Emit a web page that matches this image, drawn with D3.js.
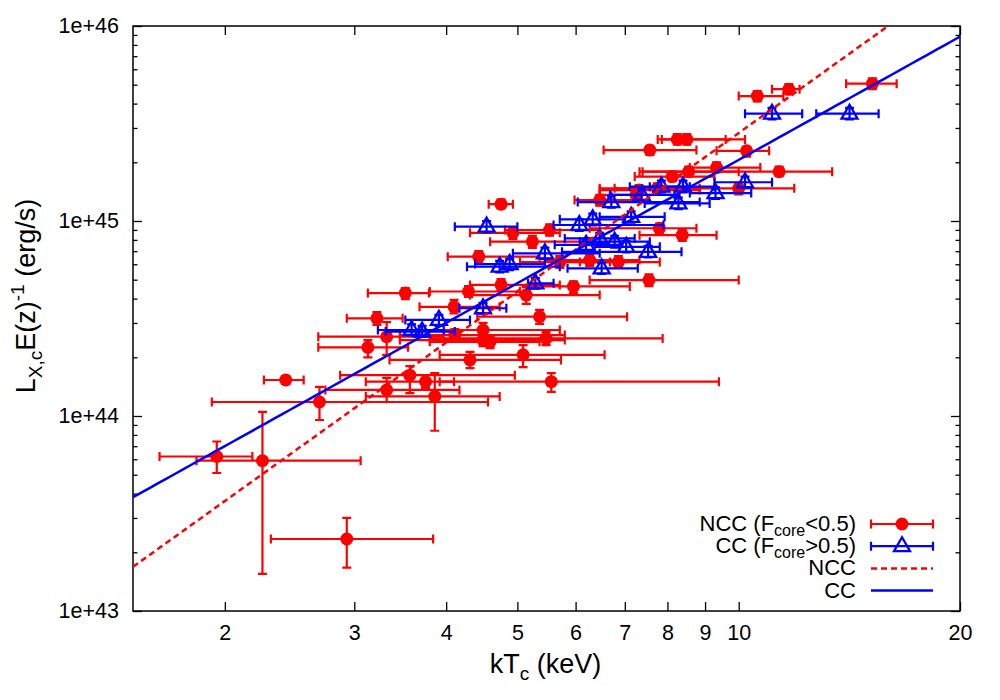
<!DOCTYPE html>
<html>
<head>
<meta charset="utf-8">
<script src="https://cdn.jsdelivr.net/npm/d3@7"></script>
<style>
  body { margin: 0; background: #fff; }
  text { font-family: "Liberation Sans", Arial, sans-serif; fill: #000; }
</style>
</head>
<body>
<div id="chart"></div>
<script>
// NCC clusters (F_core < 0.5): kT in keV, L in 1e44 erg/s
var nccT   = [1.95, 2.25, 2.93, 2.42, 2.69, 3.32, 3.22, 3.52, 3.13, 3.32, 3.57, 3.75, 3.86, 4.10, 4.11, 4.29, 4.31, 4.49, 5.09, 5.47,
              5.56, 5.36, 5.14, 4.49, 4.59, 4.75, 5.96, 7.55, 6.27, 5.24, 5.53, 4.43, 4.75, 15.2, 11.7, 10.6, 8.25, 8.50, 7.57, 10.25,
              9.33, 11.35, 8.55, 8.12, 10.0, 7.32, 7.75, 6.47, 7.80, 8.38, 4.93, 6.86, 7.25, 5.71];
var nccTlo = [1.63, 1.83, 2.31, 2.26, 1.92, 2.74, 2.93, 3.13, 2.68, 2.68, 2.87, 3.11, 3.11, 3.68, 3.46, 3.80, 3.35, 3.46, 3.92, 3.80,
              3.92, 4.41, 4.31, 3.68, 3.80, 4.31, 5.20, 6.27, 5.45, 4.59, 4.81, 4.02, 4.57, 14.0, 11.1, 10.0, 7.76, 7.86, 6.55, 9.33,
              8.58, 7.40, 7.33, 7.22, 6.47, 6.47, 6.78, 5.98, 6.27, 7.33, 4.31, 6.08, 6.47, 5.04];
var nccThi = [2.18, 3.06, 3.84, 2.56, 4.56, 4.17, 3.49, 3.79, 3.55, 3.97, 4.96, 4.10, 4.73, 4.73, 5.80, 5.04, 5.73, 5.80, 6.57, 7.88,
              9.40, 7.05, 6.47, 5.71, 5.36, 5.71, 7.11, 10.0, 7.33, 6.27, 6.47, 5.36, 4.93, 16.4, 12.1, 11.5, 9.60, 10.2, 8.76, 11.0,
              10.7, 13.4, 10.0, 9.27, 11.9, 8.85, 8.85, 7.33, 8.76, 9.33, 5.71, 7.81, 8.31, 6.68];
var nccL   = [0.62, 0.59, 0.234, 1.53, 1.18, 1.36, 3.17, 4.27, 2.25, 2.55, 1.62, 1.50, 1.26, 3.63, 2.60, 4.35, 1.94, 2.45, 2.06, 2.50,
              1.50, 3.23, 4.17, 2.76, 2.40, 4.70, 4.62, 4.98, 6.31, 7.83, 8.99, 6.56, 12.2, 50.6, 47.4, 43.7, 26.2, 26.2, 23.1, 22.9,
              18.8, 17.9, 17.9, 16.9, 14.7, 14.4, 14.7, 12.8, 9.18, 8.46, 8.7, 6.16, 13.6, 6.16];
var nccLlo = [0.51, 0.155, 0.167, 1.46, 0.954, 1.18, 2.93, 3.97, 2.00, 2.06, 1.31, 1.39, 0.84, 3.36, 2.42, 4.08, 1.76, 2.28, 1.78, 2.31,
              1.33, 2.97, 3.76, 2.54, 2.23, 4.38, 4.27, 4.63, 5.88, 7.28, 8.40, 6.10, 11.6, 47.5, 44.6, 41.1, 24.6, 24.6, 21.8, 21.4,
              17.8, 17.0, 17.0, 16.0, 13.7, 13.6, 13.9, 12.0, 8.6, 7.9, 8.1, 5.75, 12.8, 5.75];
var nccLhi = [0.74, 1.05, 0.30, 1.60, 1.41, 1.57, 3.41, 4.53, 2.45, 3.03, 1.80, 1.62, 1.66, 3.94, 2.79, 4.63, 2.13, 2.63, 2.31, 2.70,
              1.66, 3.50, 4.58, 3.00, 2.57, 5.03, 4.91, 5.32, 6.77, 8.40, 9.60, 7.00, 12.9, 53.9, 50.4, 46.4, 27.9, 27.9, 24.3, 24.0,
              20.0, 19.0, 19.0, 17.9, 15.7, 15.3, 15.6, 13.6, 9.7, 9.0, 9.3, 6.6, 14.5, 6.6];

// CC clusters (F_core > 0.5)
var ccT   = [14.15, 11.1, 10.2, 9.3, 8.4, 7.85, 7.38, 6.71, 8.28, 6.33, 7.14, 6.07, 5.45, 4.88, 4.73, 6.51, 5.29, 7.53, 7.03, 6.78,
             6.47, 6.2, 4.54, 4.49, 3.91, 3.59, 3.71];
var ccTlo = [12.75, 10.2, 9.27, 8.58, 7.57, 7.11, 6.68, 6.04, 7.45, 5.71, 6.47, 5.6, 4.93, 4.38, 4.27, 5.85, 5.17, 5.75, 6.37, 6.08,
             5.8, 5.62, 4.11, 4.17, 3.52, 3.23, 3.31];
var ccThi = [15.5, 12.2, 11.1, 10.4, 9.27, 8.58, 8.18, 8.85, 9.13, 7.0, 7.93, 7.9, 6.47, 5.45, 5.71, 7.29, 5.6, 8.36, 7.81, 7.57,
             7.22, 6.89, 5.0, 4.83, 4.31, 3.97, 4.11];
var ccL   = [35.5, 35.5, 15.8, 13.9, 15.0, 15.0, 13.6, 12.5, 12.3, 10.2, 10.5, 9.54, 6.83, 6.02, 5.83, 5.72, 4.79, 6.95, 7.37, 7.83,
             8.14, 7.55, 9.35, 3.57, 3.11, 2.76, 2.71];
var ccLlo = [33.2, 33.2, 14.8, 13.0, 14.0, 14.0, 12.7, 11.7, 11.5, 9.5, 9.8, 8.9, 6.4, 5.6, 5.45, 5.35, 4.5, 6.5, 6.9, 7.3,
             7.6, 7.05, 8.75, 3.35, 2.9, 2.6, 2.55];
var ccLhi = [38.0, 38.0, 16.9, 14.9, 16.1, 16.1, 14.6, 13.4, 13.2, 10.9, 11.2, 10.2, 7.3, 6.4, 6.25, 6.1, 5.1, 7.45, 7.9, 8.4,
             8.7, 8.1, 10.0, 3.8, 3.3, 2.95, 2.9];

// best-fit power laws: L = norm * (kT / 5 keV)^slope
var nccFit = { norm: 4.35e44, slope: 2.70 };
var ccFit  = { norm: 4.80e44, slope: 2.10 };

var xTicks = [2, 3, 4, 5, 6, 7, 8, 9, 10, 20];
var yTicks = [1e43, 1e44, 1e45, 1e46];
var yTickLabels = ["1e+43", "1e+44", "1e+45", "1e+46"];

function createChart(){
    var margin = { left: 133, right: 40, top: 26, bottom: 89 };
    var width = 1000 - margin.left - margin.right,
        height = 700 - margin.top - margin.bottom;

    var svg = d3.select("#chart")
        .append("svg")
            .attr("width", 1000)
            .attr("height", 700)
        .append("g")
            .attr("transform", "translate(" + margin.left + "," + margin.top + ")");

    var xScale = d3.scaleLog().domain([1.5, 20]).range([0, width]);
    var yScale = d3.scaleLog().domain([1e43, 1e46]).range([height, 0]);

    svg.append("clipPath").attr("id", "clip")
        .append("rect").attr("width", width).attr("height", height);

    // minor y ticks (2..9 in each decade)
    var yMinor = [];
    [1e43, 1e44, 1e45].forEach(function(dec){
        for (var k = 2; k <= 9; k++) yMinor.push(k * dec);
    });

    function styleAxis(g){
        g.select(".domain").remove();
        g.selectAll("line").attr("stroke", "#000").attr("stroke-width", 1.3);
        g.selectAll("text").attr("font-size", "21.5px").style("font-family", "'Liberation Sans', Arial, sans-serif");
    }

    svg.append("g")
        .attr("transform", "translate(0," + height + ")")
        .call(d3.axisBottom(xScale).tickValues(xTicks).tickFormat(d3.format("d")).tickSize(-9).tickPadding(14))
        .call(styleAxis);
    svg.append("g")
        .call(d3.axisTop(xScale).tickValues(xTicks).tickFormat("").tickSize(-9))
        .call(styleAxis);

    svg.append("g")
        .call(d3.axisLeft(yScale).tickValues(yTicks).tickFormat(function(d, i){ return yTickLabels[i]; }).tickSize(-9).tickPadding(14))
        .call(styleAxis);
    svg.append("g")
        .call(d3.axisLeft(yScale).tickValues(yMinor).tickFormat("").tickSize(-4.5))
        .call(styleAxis);
    svg.append("g")
        .attr("transform", "translate(" + width + ",0)")
        .call(d3.axisRight(yScale).tickValues(yTicks).tickFormat("").tickSize(-9))
        .call(styleAxis);
    svg.append("g")
        .attr("transform", "translate(" + width + ",0)")
        .call(d3.axisRight(yScale).tickValues(yMinor).tickFormat("").tickSize(-4.5))
        .call(styleAxis);

    svg.append("rect")
        .attr("width", width)
        .attr("height", height)
        .attr("fill", "none")
        .attr("stroke", "#000")
        .attr("stroke-width", 1.5);

    // axis titles
    var xt = svg.append("text")
        .attr("x", 412.5)
        .attr("y", height + 62)
        .attr("text-anchor", "middle")
        .attr("font-size", "27px");
    xt.append("tspan").text("kT");
    xt.append("tspan").attr("font-size", "19px").attr("dy", 7).text("c");
    xt.append("tspan").attr("dy", -7).text(" (keV)");

    var yt = svg.append("text")
        .attr("transform", "translate(" + (35 - margin.left) + "," + (296 - margin.top) + ") rotate(-90)")
        .attr("text-anchor", "middle")
        .attr("font-size", "27px");
    yt.append("tspan").text("L");
    yt.append("tspan").attr("font-size", "19px").attr("dy", 7).text("X,c");
    yt.append("tspan").attr("dy", -7).text("E(z)");
    yt.append("tspan").attr("font-size", "19px").attr("dy", -11).text("-1");
    yt.append("tspan").attr("dy", 11).text(" (erg/s)");

    function makeRows(T, Tlo, Thi, L, Llo, Lhi){
        return T.map(function(t, i){
            return { t: t, tlo: Tlo[i], thi: Thi[i], l: L[i] * 1e44, llo: Llo[i] * 1e44, lhi: Lhi[i] * 1e44 };
        });
    }
    var ncc = makeRows(nccT, nccTlo, nccThi, nccL, nccLlo, nccLhi);
    var cc = makeRows(ccT, ccTlo, ccThi, ccL, ccLlo, ccLhi);

    var cap = 4.5;
    function errorBars(g, data, colour){
        var e = g.selectAll(null).data(data).enter().append("g")
            .attr("stroke", colour).attr("stroke-width", 2.2).attr("fill", "none");
        e.append("path").attr("d", function(d){
            var x0 = xScale(d.tlo), x1 = xScale(d.thi), xc = xScale(d.t);
            var y0 = yScale(d.llo), y1 = yScale(d.lhi), yc = yScale(d.l);
            return "M" + x0 + "," + yc + "H" + x1 +
                   "M" + x0 + "," + (yc - cap) + "V" + (yc + cap) +
                   "M" + x1 + "," + (yc - cap) + "V" + (yc + cap) +
                   "M" + xc + "," + y0 + "V" + y1 +
                   "M" + (xc - cap) + "," + y0 + "H" + (xc + cap) +
                   "M" + (xc - cap) + "," + y1 + "H" + (xc + cap);
        });
    }

    var tri = "M0,-9L8,5L-8,5Z";

    var plot = svg.append("g").attr("clip-path", "url(#clip)");

    var gNcc = plot.append("g");
    errorBars(gNcc, ncc, "#ff0000");
    gNcc.selectAll("circle").data(ncc).enter().append("circle")
        .attr("cx", function(d){ return xScale(d.t); })
        .attr("cy", function(d){ return yScale(d.l); })
        .attr("r", 6.5)
        .attr("fill", "#ff0000");

    var gCc = plot.append("g");
    errorBars(gCc, cc, "#0000ff");
    gCc.selectAll("path.tri").data(cc).enter().append("path")
        .attr("class", "tri")
        .attr("d", tri)
        .attr("transform", function(d){ return "translate(" + xScale(d.t) + "," + yScale(d.l) + ")"; })
        .attr("fill", "none")
        .attr("stroke", "#0000ff")
        .attr("stroke-width", 2.3);

    // fit lines
    function fitPoints(fit){
        return d3.range(0, 101).map(function(i){
            var t = 1.5 * Math.pow(20 / 1.5, i / 100);
            return { t: t, l: fit.norm * Math.pow(t / 5, fit.slope) };
        });
    }
    var line = d3.line()
        .x(function(d){ return xScale(d.t); })
        .y(function(d){ return yScale(d.l); });

    plot.append("path")
        .attr("d", line(fitPoints(nccFit)))
        .attr("fill", "none")
        .attr("stroke", "#ff0000")
        .attr("stroke-width", 2.5)
        .attr("stroke-dasharray", "6,4");
    plot.append("path")
        .attr("d", line(fitPoints(ccFit)))
        .attr("fill", "none")
        .attr("stroke", "#0000ff")
        .attr("stroke-width", 2.5);

    // legend
    var legend = svg.append("g").attr("transform", "translate(" + (856 - margin.left) + "," + (524 - margin.top) + ")");
    var rowGap = 22.2;
    var sx0 = 871 - 856, sx1 = 933 - 856, sxm = 902 - 856;

    function legendLabel(row, parts){
        var t = legend.append("text")
            .attr("x", 0)
            .attr("y", row * rowGap + 7)
            .attr("text-anchor", "end")
            .attr("font-size", "22px");
        parts.forEach(function(p){
            var s = t.append("tspan").text(p.text);
            if (p.sub) s.attr("font-size", "16px").attr("dy", 5);
            if (p.back) s.attr("dy", -5);
        });
    }
    legendLabel(0, [{ text: "NCC (F" }, { text: "core", sub: true }, { text: "<0.5)", back: true }]);
    legendLabel(1, [{ text: "CC (F" }, { text: "core", sub: true }, { text: ">0.5)", back: true }]);
    legendLabel(2, [{ text: "NCC" }]);
    legendLabel(3, [{ text: "CC" }]);

    function legendBar(row, colour){
        var yy = row * rowGap;
        legend.append("path")
            .attr("d", "M" + sx0 + "," + yy + "H" + sx1 +
                       "M" + sx0 + "," + (yy - cap) + "V" + (yy + cap) +
                       "M" + sx1 + "," + (yy - cap) + "V" + (yy + cap))
            .attr("stroke", colour).attr("stroke-width", 2.2).attr("fill", "none");
    }
    legendBar(0, "#ff0000");
    legend.append("circle").attr("cx", sxm).attr("cy", 0).attr("r", 6.5).attr("fill", "#ff0000");
    legendBar(1, "#0000ff");
    legend.append("path").attr("d", tri)
        .attr("transform", "translate(" + sxm + "," + rowGap + ")")
        .attr("fill", "none").attr("stroke", "#0000ff").attr("stroke-width", 2.3);
    legend.append("line")
        .attr("x1", sx0).attr("x2", sx1).attr("y1", 2 * rowGap).attr("y2", 2 * rowGap)
        .attr("stroke", "#ff0000").attr("stroke-width", 2.5).attr("stroke-dasharray", "6,4");
    legend.append("line")
        .attr("x1", sx0).attr("x2", sx1).attr("y1", 3 * rowGap).attr("y2", 3 * rowGap)
        .attr("stroke", "#0000ff").attr("stroke-width", 2.5);
}

createChart();
</script>
</body>
</html>
